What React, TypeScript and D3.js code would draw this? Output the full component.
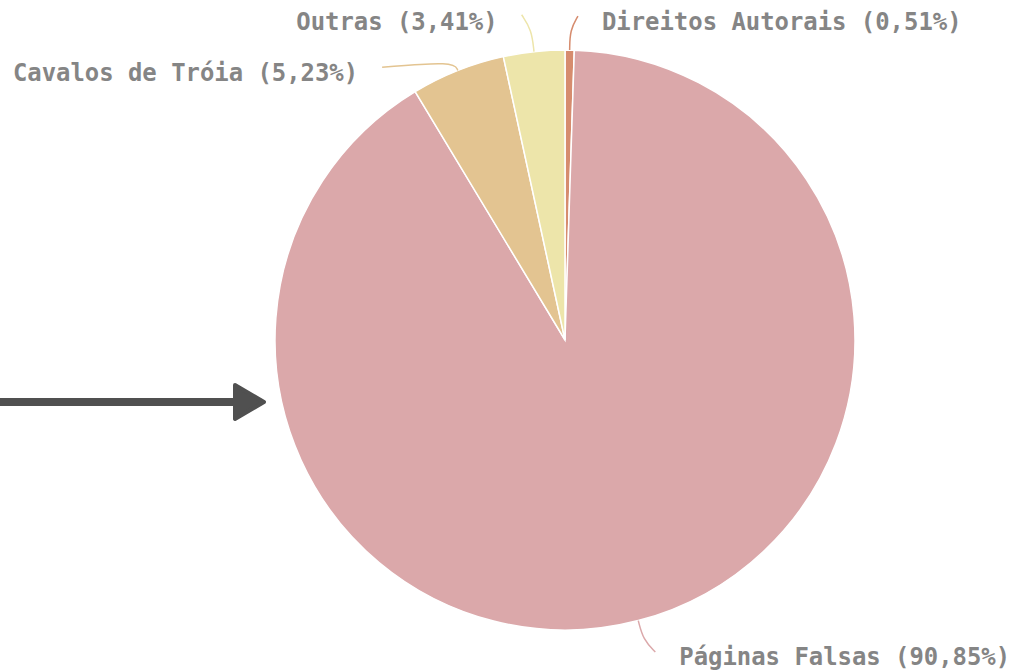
import React from "react";
import * as d3 from "d3";

const categories = ["Direitos Autorais", "Páginas Falsas", "Cavalos de Tróia", "Outras"];
const values = [0.51, 90.85, 5.23, 3.41];
const colors = ["#d68c6e", "#dba8aa", "#e3c491", "#ede5aa"];
// leader line layout: radial extension, then bend offset, label vertical shift
const leadLen = [20, 20, 10, 22];
const bendDx = [8, 12, -72, -10];
const bendDy = [-14, 12, 6, -15];
const textDy = [14, 13, 14, 15];

const W = 1014;
const H = 671;
const cx = 565;
const cy = 340;
const R = 290;

export default function App() {
  const pie = d3.pie<number>().sort(null).value((d) => d)(values);
  const arc = d3.arc<d3.PieArcDatum<number>>().innerRadius(0).outerRadius(R);
  const line = d3.line<[number, number]>().curve(d3.curveBasis);
  const fmt = (v: number) => v.toFixed(2).replace(".", ",");

  return (
    <svg width={W} height={H} style={{ position: "absolute", left: 0, top: 0, background: "#fff" }}>
      <g transform={`translate(${cx},${cy})`}>
        {pie.map((p, i) => (
          <path key={i} d={arc(p) || ""} fill={colors[i]} stroke="#fff" strokeWidth={1.5} />
        ))}
        {pie.map((p, i) => {
          const a = (p.startAngle + p.endAngle) / 2;
          const p0: [number, number] = [Math.sin(a) * R, -Math.cos(a) * R];
          const r1 = R + leadLen[i];
          const p1: [number, number] = [Math.sin(a) * r1, -Math.cos(a) * r1];
          const p2: [number, number] = [p1[0] + bendDx[i], p1[1] + bendDy[i]];
          const right = bendDx[i] > 0;
          const tx = p2[0] + (right ? 24 : -24);
          const ty = p2[1] + textDy[i];
          return (
            <g key={"l" + i}>
              <path d={line([p0, p1, p2]) || ""} fill="none" stroke={colors[i]} strokeWidth={1.5} />
              <text
                x={tx}
                y={ty}
                textAnchor={right ? "start" : "end"}
                fontFamily="'DejaVu Sans Mono', monospace"
                fontWeight="bold"
                fontSize={23.9}
                fill="#858585"
              >
                {`${categories[i]} (${fmt(values[i])}%)`}
              </text>
            </g>
          );
        })}
      </g>
      <g>
        <line x1={0} y1={402} x2={238} y2={402} stroke="#505050" strokeWidth={8} />
        <path d="M235,385 L264,402 L235,419 Z" fill="#505050" stroke="#505050" strokeWidth={4} strokeLinejoin="round" />
      </g>
    </svg>
  );
}
